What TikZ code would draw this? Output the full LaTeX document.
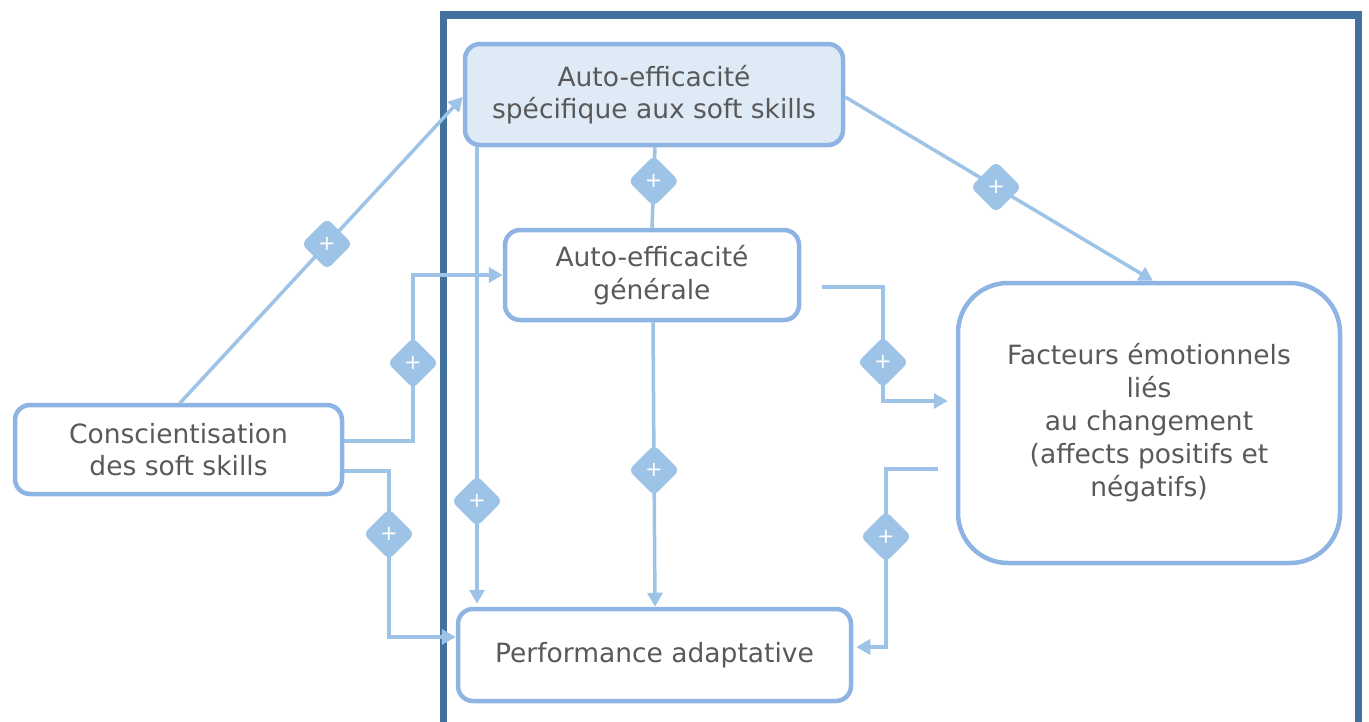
\documentclass[tikz,border=0pt]{standalone}
\usepackage{fontspec}
\setmainfont{DejaVu Sans}
\usetikzlibrary{arrows.meta,shapes.geometric}
\definecolor{boxline}{HTML}{8DB4E2}
\definecolor{connc}{HTML}{9DC3E6}
\definecolor{sfill}{HTML}{DEEBF7}
\definecolor{framec}{HTML}{41719C}
\definecolor{txt}{HTML}{595959}
\tikzset{
  box/.style={draw=boxline, line width=4.5pt, rounded corners=15pt, inner sep=0pt,
    align=center, text=txt, font=\fontsize{26.5}{32.5}\selectfont},
  conn/.style={draw=connc, line width=3.5pt},
  arr/.style={conn, -{Triangle[length=14pt,width=15pt]}},
  dmd/.style={rectangle, rotate=45, fill=connc, draw=none, minimum width=36pt, minimum height=36pt,
    inner sep=0pt, rounded corners=6pt, text=white, font=\fontsize{21}{21}\selectfont},
}
\newcommand{\plussign}{\rotatebox{-45}{+}}
\begin{document}
\begin{tikzpicture}[x=1pt,y=-1pt]
\useasboundingbox (0,0) rectangle (1369,721);
\clip (0,0) rectangle (1369,721);
\draw[framec, line width=7.5pt] (443.5,15) rectangle (1358.5,780);

\node[box, fill=sfill, minimum width=378pt, minimum height=101pt] (S) at (654,94.5)
  {Auto-efficacité\\spécifique aux soft skills};
\node[box, fill=white, minimum width=294pt, minimum height=90pt] (G) at (652,275)
  {Auto-efficacité\\générale};
\node[box, fill=white, minimum width=327pt, minimum height=89pt] (C) at (178.5,449.5)
  {Conscientisation\\des soft skills};
\node[box, fill=white, minimum width=393pt, minimum height=92pt] (P) at (654.5,655)
  {Performance adaptative};
\node[box, fill=white, rounded corners=50pt, minimum width=382pt, minimum height=280pt,
  font=\fontsize{26.5}{33}\selectfont] (F) at (1149,423)
  {Facteurs émotionnels\\liés\\au changement\\(affects positifs et\\négatifs)};

\coordinate (g8) at (822,287);
\coordinate (f9) at (938,469);

% C -> S
\draw[arr] (180,403) -- node[dmd, pos=0.52] (d1) {\plussign} (S.west |- 0,97);
% C -> G
\draw[arr] (C.east |- 0,441) -- (413,441) -- node[dmd, pos=0.47] (d2) {\plussign} (413,275) -- (G.west);
% C -> P
\draw[arr] (C.east |- 0,471) -- (389,471) -- node[dmd, pos=0.38] (d3) {\plussign} (389,637) -- (P.west |- 0,637);
% S -> P
\draw[arr, shorten >=3pt] (S.south -| 477,0) -- node[dmd, pos=0.77] (d4) {\plussign} (P.north -| 477,0);
% S -> G
\draw[conn] (S.south -| 655,0) -- node[dmd, pos=0.42] (d5) {\plussign} (G.north -| 652,0);
% G -> P
\draw[arr] (G.south -| 653,0) -- node[dmd, pos=0.52] (d6) {\plussign} (P.north -| 655,0);
% S -> F
\draw[arr] (S.east |- 0,97) -- node[dmd, pos=0.49] (d7) {\plussign} (F.north -| 1153,0);
% G -> F
\draw[arr, shorten >=8pt] (g8) -- (883,287) -- node[dmd, pos=0.66] (d8) {\plussign} (883,401) -- (F.west |- 0,401);
% F -> P
\draw[arr, shorten >=3pt] (f9) -- (886,469) -- node[dmd, pos=0.38] (d9) {\plussign} (886,647) -- (P.east |- 0,647);
\end{tikzpicture}
\end{document}
